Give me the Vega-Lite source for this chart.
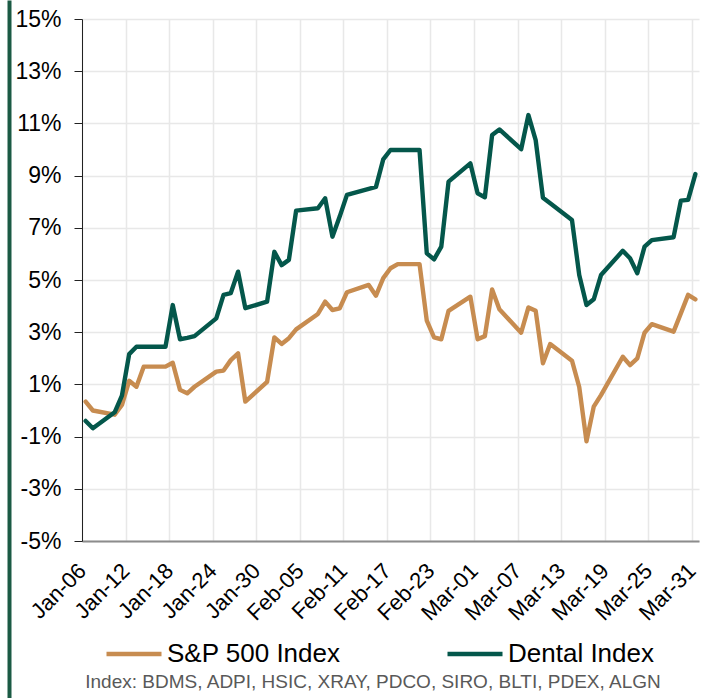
{
  "$schema": "https://vega.github.io/schema/vega-lite/v6.json",
  "width": 617,
  "height": 522,
  "autosize": {"type": "none"},
  "padding": {"left": 82, "top": 19, "right": 11, "bottom": 157},
  "background": "white",
  "config": {"font": "Liberation Sans", "view": {"stroke": null}},
  "data": {"values": [
    {"date": "2022-01-06", "series": "S&P 500 Index", "value": 0.34},
    {"date": "2022-01-07", "series": "S&P 500 Index", "value": 0.00},
    {"date": "2022-01-10", "series": "S&P 500 Index", "value": -0.16},
    {"date": "2022-01-11", "series": "S&P 500 Index", "value": 0.21},
    {"date": "2022-01-12", "series": "S&P 500 Index", "value": 1.14},
    {"date": "2022-01-13", "series": "S&P 500 Index", "value": 0.91},
    {"date": "2022-01-14", "series": "S&P 500 Index", "value": 1.68},
    {"date": "2022-01-17", "series": "S&P 500 Index", "value": 1.68},
    {"date": "2022-01-18", "series": "S&P 500 Index", "value": 1.83},
    {"date": "2022-01-19", "series": "S&P 500 Index", "value": 0.79},
    {"date": "2022-01-20", "series": "S&P 500 Index", "value": 0.66},
    {"date": "2022-01-21", "series": "S&P 500 Index", "value": 0.91},
    {"date": "2022-01-24", "series": "S&P 500 Index", "value": 1.49},
    {"date": "2022-01-25", "series": "S&P 500 Index", "value": 1.53},
    {"date": "2022-01-26", "series": "S&P 500 Index", "value": 1.93},
    {"date": "2022-01-27", "series": "S&P 500 Index", "value": 2.19},
    {"date": "2022-01-28", "series": "S&P 500 Index", "value": 0.34},
    {"date": "2022-01-31", "series": "S&P 500 Index", "value": 1.10},
    {"date": "2022-02-01", "series": "S&P 500 Index", "value": 2.80},
    {"date": "2022-02-02", "series": "S&P 500 Index", "value": 2.55},
    {"date": "2022-02-03", "series": "S&P 500 Index", "value": 2.77},
    {"date": "2022-02-04", "series": "S&P 500 Index", "value": 3.11},
    {"date": "2022-02-07", "series": "S&P 500 Index", "value": 3.70},
    {"date": "2022-02-08", "series": "S&P 500 Index", "value": 4.17},
    {"date": "2022-02-09", "series": "S&P 500 Index", "value": 3.85},
    {"date": "2022-02-10", "series": "S&P 500 Index", "value": 3.91},
    {"date": "2022-02-11", "series": "S&P 500 Index", "value": 4.53},
    {"date": "2022-02-14", "series": "S&P 500 Index", "value": 4.81},
    {"date": "2022-02-15", "series": "S&P 500 Index", "value": 4.40},
    {"date": "2022-02-16", "series": "S&P 500 Index", "value": 5.07},
    {"date": "2022-02-17", "series": "S&P 500 Index", "value": 5.45},
    {"date": "2022-02-18", "series": "S&P 500 Index", "value": 5.61},
    {"date": "2022-02-21", "series": "S&P 500 Index", "value": 5.61},
    {"date": "2022-02-22", "series": "S&P 500 Index", "value": 3.44},
    {"date": "2022-02-23", "series": "S&P 500 Index", "value": 2.80},
    {"date": "2022-02-24", "series": "S&P 500 Index", "value": 2.73},
    {"date": "2022-02-25", "series": "S&P 500 Index", "value": 3.82},
    {"date": "2022-02-28", "series": "S&P 500 Index", "value": 4.36},
    {"date": "2022-03-01", "series": "S&P 500 Index", "value": 2.73},
    {"date": "2022-03-02", "series": "S&P 500 Index", "value": 2.85},
    {"date": "2022-03-03", "series": "S&P 500 Index", "value": 4.64},
    {"date": "2022-03-04", "series": "S&P 500 Index", "value": 3.88},
    {"date": "2022-03-07", "series": "S&P 500 Index", "value": 2.98},
    {"date": "2022-03-08", "series": "S&P 500 Index", "value": 3.95},
    {"date": "2022-03-09", "series": "S&P 500 Index", "value": 3.82},
    {"date": "2022-03-10", "series": "S&P 500 Index", "value": 1.81},
    {"date": "2022-03-11", "series": "S&P 500 Index", "value": 2.55},
    {"date": "2022-03-14", "series": "S&P 500 Index", "value": 1.91},
    {"date": "2022-03-15", "series": "S&P 500 Index", "value": 0.90},
    {"date": "2022-03-16", "series": "S&P 500 Index", "value": -1.18},
    {"date": "2022-03-17", "series": "S&P 500 Index", "value": 0.15},
    {"date": "2022-03-18", "series": "S&P 500 Index", "value": 0.59},
    {"date": "2022-03-21", "series": "S&P 500 Index", "value": 2.06},
    {"date": "2022-03-22", "series": "S&P 500 Index", "value": 1.74},
    {"date": "2022-03-23", "series": "S&P 500 Index", "value": 2.00},
    {"date": "2022-03-24", "series": "S&P 500 Index", "value": 2.98},
    {"date": "2022-03-25", "series": "S&P 500 Index", "value": 3.31},
    {"date": "2022-03-28", "series": "S&P 500 Index", "value": 3.02},
    {"date": "2022-03-29", "series": "S&P 500 Index", "value": 3.72},
    {"date": "2022-03-30", "series": "S&P 500 Index", "value": 4.43},
    {"date": "2022-03-31", "series": "S&P 500 Index", "value": 4.26},
    {"date": "2022-01-06", "series": "Dental Index", "value": -0.40},
    {"date": "2022-01-07", "series": "Dental Index", "value": -0.68},
    {"date": "2022-01-10", "series": "Dental Index", "value": -0.07},
    {"date": "2022-01-11", "series": "Dental Index", "value": 0.57},
    {"date": "2022-01-12", "series": "Dental Index", "value": 2.16},
    {"date": "2022-01-13", "series": "Dental Index", "value": 2.44},
    {"date": "2022-01-14", "series": "Dental Index", "value": 2.44},
    {"date": "2022-01-17", "series": "Dental Index", "value": 2.44},
    {"date": "2022-01-18", "series": "Dental Index", "value": 4.04},
    {"date": "2022-01-19", "series": "Dental Index", "value": 2.73},
    {"date": "2022-01-20", "series": "Dental Index", "value": 2.78},
    {"date": "2022-01-21", "series": "Dental Index", "value": 2.85},
    {"date": "2022-01-24", "series": "Dental Index", "value": 3.53},
    {"date": "2022-01-25", "series": "Dental Index", "value": 4.43},
    {"date": "2022-01-26", "series": "Dental Index", "value": 4.50},
    {"date": "2022-01-27", "series": "Dental Index", "value": 5.32},
    {"date": "2022-01-28", "series": "Dental Index", "value": 3.92},
    {"date": "2022-01-31", "series": "Dental Index", "value": 4.17},
    {"date": "2022-02-01", "series": "Dental Index", "value": 6.08},
    {"date": "2022-02-02", "series": "Dental Index", "value": 5.57},
    {"date": "2022-02-03", "series": "Dental Index", "value": 5.77},
    {"date": "2022-02-04", "series": "Dental Index", "value": 7.66},
    {"date": "2022-02-07", "series": "Dental Index", "value": 7.75},
    {"date": "2022-02-08", "series": "Dental Index", "value": 8.13},
    {"date": "2022-02-09", "series": "Dental Index", "value": 6.66},
    {"date": "2022-02-10", "series": "Dental Index", "value": 7.43},
    {"date": "2022-02-11", "series": "Dental Index", "value": 8.26},
    {"date": "2022-02-14", "series": "Dental Index", "value": 8.49},
    {"date": "2022-02-15", "series": "Dental Index", "value": 8.57},
    {"date": "2022-02-16", "series": "Dental Index", "value": 9.62},
    {"date": "2022-02-17", "series": "Dental Index", "value": 9.98},
    {"date": "2022-02-18", "series": "Dental Index", "value": 9.98},
    {"date": "2022-02-21", "series": "Dental Index", "value": 9.98},
    {"date": "2022-02-22", "series": "Dental Index", "value": 6.02},
    {"date": "2022-02-23", "series": "Dental Index", "value": 5.79},
    {"date": "2022-02-24", "series": "Dental Index", "value": 6.28},
    {"date": "2022-02-25", "series": "Dental Index", "value": 8.77},
    {"date": "2022-02-28", "series": "Dental Index", "value": 9.47},
    {"date": "2022-03-01", "series": "Dental Index", "value": 8.32},
    {"date": "2022-03-02", "series": "Dental Index", "value": 8.17},
    {"date": "2022-03-03", "series": "Dental Index", "value": 10.56},
    {"date": "2022-03-04", "series": "Dental Index", "value": 10.77},
    {"date": "2022-03-07", "series": "Dental Index", "value": 10.01},
    {"date": "2022-03-08", "series": "Dental Index", "value": 11.32},
    {"date": "2022-03-09", "series": "Dental Index", "value": 10.36},
    {"date": "2022-03-10", "series": "Dental Index", "value": 8.15},
    {"date": "2022-03-11", "series": "Dental Index", "value": 7.94},
    {"date": "2022-03-14", "series": "Dental Index", "value": 7.30},
    {"date": "2022-03-15", "series": "Dental Index", "value": 5.19},
    {"date": "2022-03-16", "series": "Dental Index", "value": 4.04},
    {"date": "2022-03-17", "series": "Dental Index", "value": 4.26},
    {"date": "2022-03-18", "series": "Dental Index", "value": 5.19},
    {"date": "2022-03-21", "series": "Dental Index", "value": 6.12},
    {"date": "2022-03-22", "series": "Dental Index", "value": 5.83},
    {"date": "2022-03-23", "series": "Dental Index", "value": 5.26},
    {"date": "2022-03-24", "series": "Dental Index", "value": 6.28},
    {"date": "2022-03-25", "series": "Dental Index", "value": 6.53},
    {"date": "2022-03-28", "series": "Dental Index", "value": 6.64},
    {"date": "2022-03-29", "series": "Dental Index", "value": 8.04},
    {"date": "2022-03-30", "series": "Dental Index", "value": 8.07},
    {"date": "2022-03-31", "series": "Dental Index", "value": 9.06}
  ]},
  "layer": [
    {
      "mark": {"type": "line", "strokeWidth": 4.4, "strokeJoin": "round", "strokeCap": "round"},
      "encoding": {
        "x": {
          "field": "date", "type": "temporal", "timeUnit": "utcyearmonthdate", "bandPosition": 0.5,
          "scale": {"type": "utc", "domain": [
            {"year": 2022, "month": 1, "date": 6, "utc": true},
            {"year": 2022, "month": 4, "date": 1, "utc": true}
          ]},
          "axis": {
            "values": [
              {"year": 2022, "month": 1, "date": 6, "utc": true},
              {"year": 2022, "month": 1, "date": 12, "utc": true},
              {"year": 2022, "month": 1, "date": 18, "utc": true},
              {"year": 2022, "month": 1, "date": 24, "utc": true},
              {"year": 2022, "month": 1, "date": 30, "utc": true},
              {"year": 2022, "month": 2, "date": 5, "utc": true},
              {"year": 2022, "month": 2, "date": 11, "utc": true},
              {"year": 2022, "month": 2, "date": 17, "utc": true},
              {"year": 2022, "month": 2, "date": 23, "utc": true},
              {"year": 2022, "month": 3, "date": 1, "utc": true},
              {"year": 2022, "month": 3, "date": 7, "utc": true},
              {"year": 2022, "month": 3, "date": 13, "utc": true},
              {"year": 2022, "month": 3, "date": 19, "utc": true},
              {"year": 2022, "month": 3, "date": 25, "utc": true},
              {"year": 2022, "month": 3, "date": 31, "utc": true}
            ],
            "labelExpr": "utcFormat(datum.value, '%b-%d')",
            "labelAngle": -45,
            "labelAlign": "right",
            "labelBaseline": "middle",
            "labelFont": "Liberation Sans",
            "labelFontSize": 22,
            "labelColor": "#000000",
            "labelPadding": 26,
            "labelOverlap": false,
            "labelFlush": false,
            "labelBound": false,
            "ticks": false,
            "tickSize": 0,
            "domainColor": "#8c8c8c",
            "domainWidth": 2,
            "grid": true,
            "gridColor": "#e8e8e8",
            "gridWidth": 1.5,
            "title": "Index:  BDMS, ADPI, HSIC, XRAY, PDCO, SIRO, BLTI, PDEX, ALGN",
            "titleFont": "Liberation Sans",
            "titleFontSize": 19,
            "titleFontWeight": "normal",
            "titleColor": "#595959",
            "titleX": 290.5,
            "titleY": 146,
            "titleAlign": "center",
            "titleBaseline": "alphabetic"
          }
        },
        "y": {
          "field": "value", "type": "quantitative",
          "scale": {"domain": [-5, 15], "nice": false, "zero": false},
          "axis": {
            "values": [-5, -3, -1, 1, 3, 5, 7, 9, 11, 13, 15],
            "labelExpr": "datum.value + '%'",
            "labelFont": "Liberation Sans",
            "labelFontSize": 23,
            "labelColor": "#000000",
            "labelPadding": 13,
            "tickSize": 8,
            "tickColor": "#222222",
            "domainColor": "#222222",
            "domainWidth": 1,
            "grid": true,
            "gridColor": "#e8e8e8",
            "gridWidth": 1.5,
            "title": null
          }
        },
        "color": {
          "field": "series", "type": "nominal",
          "scale": {"domain": ["S&P 500 Index", "Dental Index"], "range": ["#C78C50", "#04574B"]},
          "legend": {
            "orient": "none",
            "legendX": 22,
            "legendY": 605,
            "direction": "horizontal",
            "title": null,
            "symbolType": "stroke",
            "symbolSize": 3025,
            "symbolStrokeWidth": 4.7,
            "labelFont": "Liberation Sans",
            "labelFontSize": 26,
            "labelColor": "#000000",
            "labelOffset": 3,
            "labelLimit": 0,
            "columnPadding": 97,
            "padding": 0
          }
        }
      }
    },
    {
      "mark": {"type": "point", "opacity": 0},
      "encoding": {
        "y": {
          "field": "value", "type": "quantitative",
          "scale": {"domain": [-5, 15], "nice": false, "zero": false, "range": [679, -19]},
          "axis": {
            "orient": "left",
            "offset": 73,
            "domainColor": "#1b5a44",
            "domainWidth": 4,
            "labels": false,
            "ticks": false,
            "grid": false,
            "title": null
          }
        }
      }
    }
  ],
  "resolve": {"scale": {"y": "independent"}, "axis": {"y": "independent"}}
}
